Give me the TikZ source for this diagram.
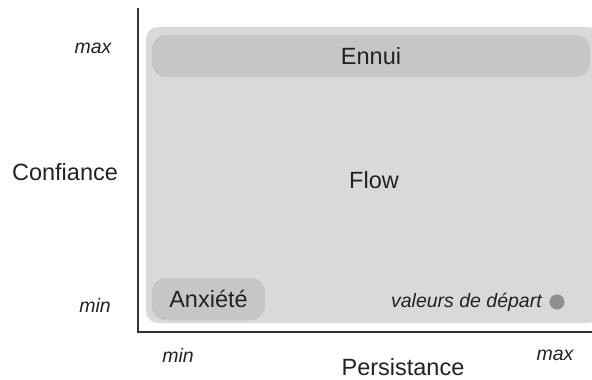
\documentclass[tikz,border=0pt]{standalone}
\usepackage{fontspec}
\setmainfont{Liberation Sans}
\usetikzlibrary{positioning}
\definecolor{zone}{HTML}{D9D9D9}
\definecolor{band}{HTML}{C6C6C6}
\definecolor{ink}{HTML}{222222}
\definecolor{axisgray}{HTML}{333333}
\definecolor{dotgray}{HTML}{8E8E8E}
\newcommand{\labfont}{\fontsize{23.5}{28}\selectfont}
\newcommand{\tickfont}{\fontsize{19.5}{23}\selectfont\itshape}

\begin{document}
\begin{tikzpicture}[x=1pt,y=-1pt,text=ink,
  region/.style={fill=band,rounded corners=14pt,inner sep=0pt,font=\labfont}]
\useasboundingbox (0,0) rectangle (592,380);
\fill[zone,rounded corners=12pt] (146,27) rectangle (600,323);
\node[region,minimum width=438pt,minimum height=42pt] (ennui) at (371,56) {Ennui};
\node[region,minimum width=113pt,minimum height=42pt] (anx) at (208.5,299) {Anxiété};
\node[font=\labfont] (flow) at (374,180) {Flow};
\node[circle,fill=dotgray,minimum size=15pt,inner sep=0pt] (start) at (557,302) {};
\node[font=\tickfont,left=4pt of start] (startlbl) {valeurs de départ};
% axes
\coordinate (top) at (138,8);
\coordinate (origin) at (138,332);
\coordinate (right) at (592,332);
\draw[axisgray,line width=1.4pt] (top) -- (origin) -- (right);
\node[font=\tickfont] (ymax) at (93,48) {max};
\node[font=\tickfont] (ymin) at (95,305) {min};
\node[font=\labfont] (ylabel) at (65,172) {Confiance};
\node[font=\tickfont] (xmin) at (178,355) {min};
\node[font=\tickfont] (xmax) at (555,355) {max};
\node[font=\labfont] (xlabel) at (403,367) {Persistance};
\end{tikzpicture}
\end{document}
